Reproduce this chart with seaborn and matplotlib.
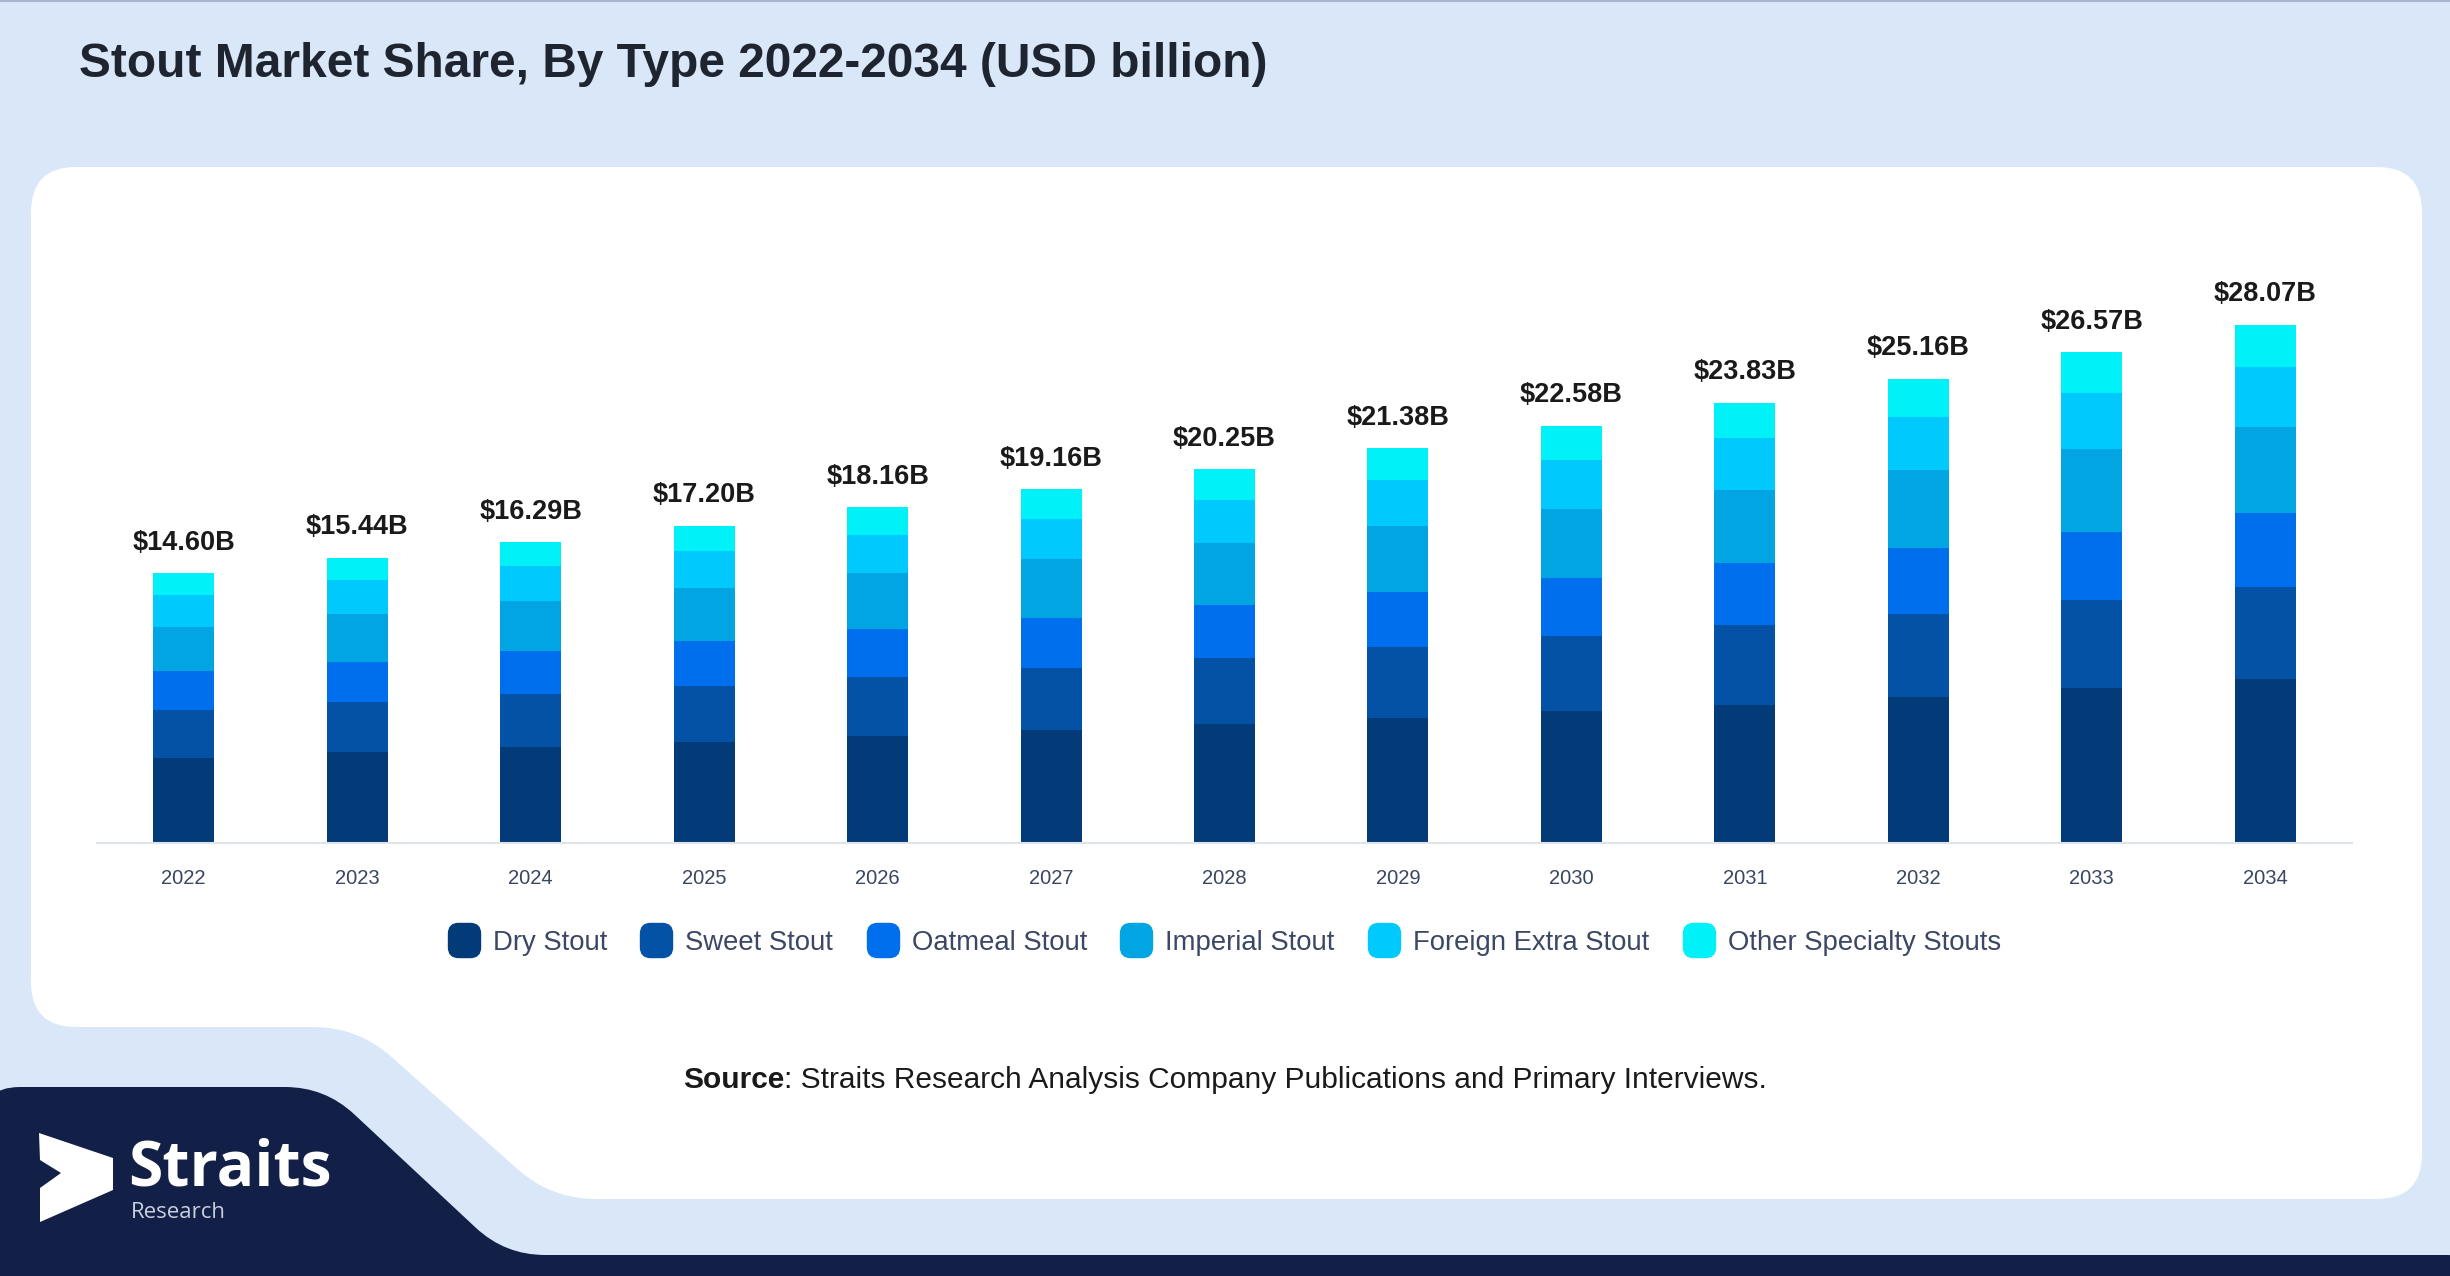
import numpy as np
import pandas as pd
import matplotlib
matplotlib.use("Agg")
import matplotlib.pyplot as plt
from matplotlib.path import Path
from matplotlib.patches import PathPatch, Rectangle
from matplotlib.lines import Line2D
import seaborn as sns

sns.set_theme(style="white")
plt.rcParams["font.family"] = ["Liberation Sans", "DejaVu Sans"]

# ---------------------------------------------
# DATA (USD billion)
# ---------------------------------------------
years = ["2022", "2023", "2024", "2025", "2026", "2027", "2028",
         "2029", "2030", "2031", "2032", "2033", "2034"]
types = ["Dry Stout", "Sweet Stout", "Oatmeal Stout", "Imperial Stout",
         "Foreign Extra Stout", "Other Specialty Stouts"]
dry = [4.58, 4.89, 5.16, 5.47, 5.75, 6.09, 6.42, 6.73, 7.15, 7.48, 7.90, 8.38, 8.85]
sweet = [2.61, 2.75, 2.90, 3.04, 3.25, 3.38, 3.60, 3.85, 4.03, 4.29, 4.49, 4.75, 5.02]
oatmeal = [2.10, 2.17, 2.30, 2.44, 2.57, 2.73, 2.86, 3.02, 3.17, 3.37, 3.58, 3.72, 3.98]
imperial = [2.41, 2.59, 2.73, 2.84, 3.02, 3.16, 3.36, 3.54, 3.75, 4.00, 4.21, 4.48, 4.70]
foreign = [1.72, 1.81, 1.88, 2.01, 2.10, 2.21, 2.35, 2.51, 2.66, 2.80, 2.88, 3.06, 3.23]
other = [1.19, 1.23, 1.32, 1.39, 1.48, 1.59, 1.66, 1.72, 1.83, 1.90, 2.09, 2.19, 2.29]
totals = [14.60, 15.44, 16.29, 17.20, 18.16, 19.16, 20.25, 21.38, 22.58, 23.83, 25.16, 26.57, 28.07]

colors = ["#033a78", "#0452a6", "#006fee", "#00a5e2", "#00c9fd", "#00f1f8"]

BG = "#d9e7f9"
NAVY = "#121f47"
W, H = 2450, 1276

df = pd.DataFrame({"Year": years, "Dry Stout": dry, "Sweet Stout": sweet,
                   "Oatmeal Stout": oatmeal, "Imperial Stout": imperial,
                   "Foreign Extra Stout": foreign, "Other Specialty Stouts": other})
cum = df[types].cumsum(axis=1)


def rounded_path(pts, r):
    # polygon in pixel coords (y down) with rounded corners -> figure fraction path
    verts, codes = [], []
    n = len(pts)
    for i in range(n):
        p0, p1, p2 = np.array(pts[i - 1], float), np.array(pts[i], float), np.array(pts[(i + 1) % n], float)
        d1, d2 = p0 - p1, p2 - p1
        l1, l2 = np.linalg.norm(d1), np.linalg.norm(d2)
        rr = min(r, l1 / 2, l2 / 2)
        a = p1 + d1 / l1 * rr
        b = p1 + d2 / l2 * rr
        verts.append(a)
        codes.append(Path.MOVETO if i == 0 else Path.LINETO)
        verts += [p1, b]
        codes += [Path.CURVE3, Path.CURVE3]
    verts.append(verts[0])
    codes.append(Path.CLOSEPOLY)
    v = np.array(verts)
    v[:, 0] = v[:, 0] / W
    v[:, 1] = 1 - v[:, 1] / H
    return Path(v, codes)


fig = plt.figure(figsize=(24.5, 12.76), dpi=100, facecolor=BG)

# ---------------------------------------------
# BACKGROUND SHAPES
# ---------------------------------------------
white = rounded_path([(31, 167), (2422, 167), (2422, 1199), (551, 1199),
                      (358, 1027), (31, 1027)], 45)
fig.add_artist(PathPatch(white, transform=fig.transFigure, facecolor="white",
                         edgecolor="none", zorder=0))
navy = rounded_path([(-20, 1087), (325, 1087), (505, 1255), (2470, 1255),
                     (2470, 1300), (-20, 1300)], 40)
fig.add_artist(PathPatch(navy, transform=fig.transFigure, facecolor=NAVY,
                         edgecolor="none", zorder=0))
fig.add_artist(Rectangle((0, 1 - 2 / H), 1, 2 / H, transform=fig.transFigure,
                         facecolor="#a9b6d0", edgecolor="none", zorder=0))

# logo
logo = [(39, 1133), (113, 1158), (113, 1190), (40, 1222), (40, 1188), (61, 1173), (40, 1160)]
logo_xy = [(x / W, 1 - y / H) for x, y in logo]
fig.add_artist(plt.Polygon(logo_xy, closed=True, transform=fig.transFigure,
                           facecolor="white", edgecolor="none", zorder=1))
fig.text(128 / W, 1 - 1186 / H, "Straits", fontsize=45, fontweight="bold",
         family="Open Sans", color="white", va="baseline", ha="left")
fig.text(131 / W, 1 - 1218 / H, "Research", fontsize=16, family="Open Sans",
         color="#c9cfdd", va="baseline", ha="left")

# title
fig.text(79 / W, 1 - 77 / H, "Stout Market Share, By Type 2022-2034 (USD billion)",
         fontsize=34.5, fontweight="bold", color="#1f2530", va="baseline", ha="left")

# ---------------------------------------------
# STACKED BARS
# ---------------------------------------------
ax = fig.add_axes([97 / W, 1 - 842.5 / H, (2352 - 97) / W, (842.5 - 180) / H])
ax.set_facecolor("none")

for t, c in reversed(list(zip(types, colors))):
    sns.barplot(x=df["Year"], y=cum[t], color=c, width=0.352, saturation=1,
                errorbar=None, ax=ax, zorder=2, linewidth=0, edgecolor=c)

ax.set_xlim(-0.5, 12.5)
ax.set_ylim(0, 35.93)
ax.set_xlabel("")
ax.set_ylabel("")
ax.set_yticks([])
for s in ["top", "right", "left"]:
    ax.spines[s].set_visible(False)
ax.spines["bottom"].set_color("#dfe3ea")
ax.spines["bottom"].set_linewidth(1.5)
ax.tick_params(axis="x", length=0, pad=19, labelsize=14.5, labelcolor="#3a4660")

for i, tot in enumerate(totals):
    top = cum[types[-1]].iloc[i]
    ax.annotate(f"${tot:.2f}B", (i, top), xytext=(0, 22), textcoords="offset points",
                ha="center", va="center", fontsize=19.5, fontweight="bold", color="#1a1a1a")

# ---------------------------------------------
# LEGEND
# ---------------------------------------------
sq = rounded_path([(0, 0), (0.94, 0), (0.94, 1), (0, 1)], 0.3)
mv = sq.vertices.copy()
mv[:, 0] = mv[:, 0] * W - 0.47
mv[:, 1] = (1 - mv[:, 1]) * H - 0.5
marker = Path(mv, sq.codes)

handles = [Line2D([], [], linestyle="none", marker=marker, markersize=24.5,
                  markerfacecolor=c, markeredgecolor=c) for c in colors]
fig.legend(handles, types, loc="center", bbox_to_anchor=(1224 / W, 1 - 943 / H),
           ncol=6, frameon=False, fontsize=19.8, handlelength=1.2,
           handletextpad=0.45, columnspacing=1.2, labelcolor="#3b4763")

# ---------------------------------------------
# SOURCE
# ---------------------------------------------
renderer = fig.canvas.get_renderer()
ys = 1 - 1080 / H
t1 = fig.text(0, ys, "Source", fontsize=21.5, fontweight="bold", color="#1a1a1a", va="center")
t2 = fig.text(0, ys, ": Straits Research Analysis Company Publications and Primary Interviews.",
              fontsize=21.5, color="#1a1a1a", va="center")
w1 = t1.get_window_extent(renderer).width
w2 = t2.get_window_extent(renderer).width
x0 = 1225 - (w1 + w2) / 2
t1.set_x(x0 / W)
t2.set_x((x0 + w1) / W)

fig.savefig("out.png", dpi=100, facecolor=BG)
